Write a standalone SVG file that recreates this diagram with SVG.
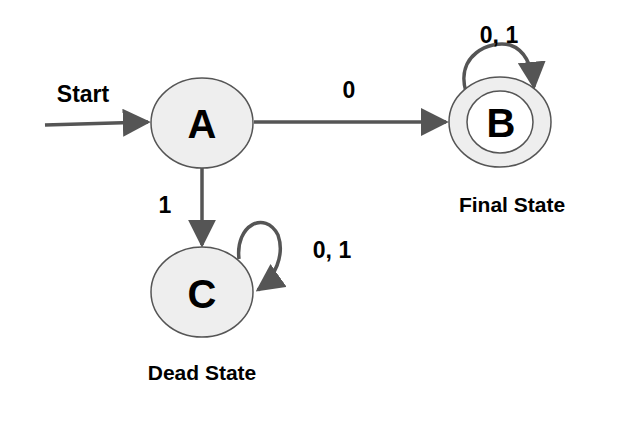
<svg xmlns="http://www.w3.org/2000/svg" width="627" height="431" viewBox="0 0 627 431">
<style>
.n{fill:#eeeeee;stroke:#555;stroke-width:1.5}
.e{fill:none;stroke:#555;stroke-width:3.5}
.big{font:bold 40px "Liberation Sans",Arial,sans-serif;fill:#000;text-anchor:middle}
.lb{font:bold 23px "Liberation Sans",Arial,sans-serif;fill:#000;text-anchor:middle}
.sm{font:bold 21px "Liberation Sans",Arial,sans-serif;fill:#000;text-anchor:middle}
</style>
<defs><marker id="ah" viewBox="0 0 10 10" refX="9" refY="5" markerWidth="28" markerHeight="28" markerUnits="userSpaceOnUse" orient="auto"><path d="M0,0L10,5L0,10Z" fill="#555"/></marker></defs>
<g id="connectors">
<path class="e" d="M45,125L148,122" marker-end="url(#ah)"/>
<path class="e" d="M254,122L446,122" marker-end="url(#ah)"/>
<path class="e" d="M202,168L202,245" marker-end="url(#ah)"/>
<path class="e" d="M466,92C455,55 490,40 510,45C525,50 532,65 534,87" marker-end="url(#ah)"/>
<path class="e" d="M239,259C235,225 265,210 278,235C285,255 275,278 258,290" marker-end="url(#ah)"/>
</g>
<g id="A"><ellipse class="n" cx="202" cy="123" rx="51" ry="45"/><text class="big" x="202" y="138">A</text></g>
<g id="B"><ellipse class="n" cx="500" cy="122" rx="51" ry="45"/><ellipse class="n" cx="500" cy="122" rx="33" ry="31" style="fill:#fff"/><text class="big" x="501" y="137">B</text></g>
<g id="C"><ellipse class="n" cx="202" cy="292" rx="51" ry="45"/><text class="big" x="202" y="308">C</text></g>
<g id="labels">
<text class="lb" x="83" y="102">Start</text>
<text class="lb" x="349" y="98">0</text>
<text class="lb" x="165" y="213">1</text>
<text class="lb" x="499" y="43">0, 1</text>
<text class="lb" x="332" y="258">0, 1</text>
<text class="sm" x="512" y="212">Final State</text>
<text class="sm" x="202" y="380">Dead State</text>
</g>
</svg>
